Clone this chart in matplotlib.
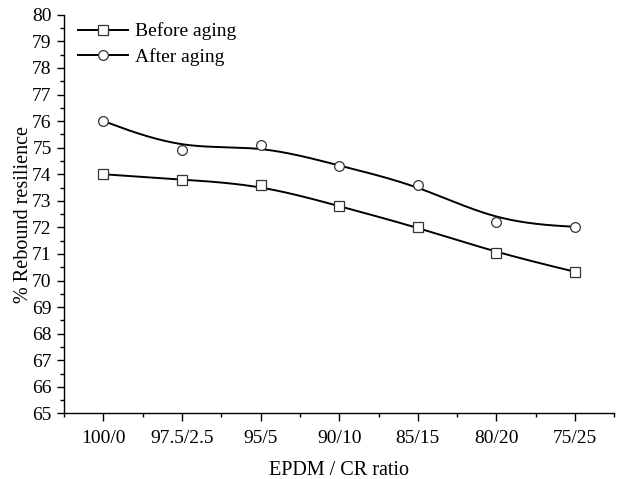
import numpy as np
import matplotlib
matplotlib.use("Agg")
import matplotlib.pyplot as plt
from matplotlib.ticker import MultipleLocator

categories = ["100/0", "97.5/2.5", "95/5", "90/10", "85/15", "80/20", "75/25"]
before_aging = [74.0, 73.8, 73.6, 72.8, 72.0, 71.05, 70.33]
after_aging = [76.0, 74.92, 75.11, 74.32, 73.6, 72.21, 72.02]


def bspline(xs, ys, n=40):
    """Uniform cubic B-spline with clamped (tripled) end control points."""
    px = np.concatenate([[xs[0]] * 2, xs, [xs[-1]] * 2]).astype(float)
    py = np.concatenate([[ys[0]] * 2, ys, [ys[-1]] * 2]).astype(float)
    t = np.linspace(0, 1, n)
    b0 = (1 - t) ** 3 / 6
    b1 = (3 * t ** 3 - 6 * t ** 2 + 4) / 6
    b2 = (-3 * t ** 3 + 3 * t ** 2 + 3 * t + 1) / 6
    b3 = t ** 3 / 6
    ox, oy = [], []
    for i in range(len(px) - 3):
        ox.append(b0 * px[i] + b1 * px[i + 1] + b2 * px[i + 2] + b3 * px[i + 3])
        oy.append(b0 * py[i] + b1 * py[i + 1] + b2 * py[i + 2] + b3 * py[i + 3])
    return np.concatenate(ox), np.concatenate(oy)


plt.rcParams['font.family'] = ['Liberation Serif', 'DejaVu Serif']

fig = plt.figure(figsize=(6.23, 4.79), dpi=100)
ax = fig.add_axes([0.103, 0.137, 0.883, 0.832])

x = np.arange(len(categories))
for ys, mk, lab in [(before_aging, 's', 'Before aging'), (after_aging, 'o', 'After aging')]:
    sx, sy = bspline(x, ys)
    ax.plot(sx, sy, color='black', lw=1.4, zorder=2)
    ax.plot(x, ys, linestyle='none', marker=mk, ms=7, mfc='white', mec='#333333',
            mew=0.9, zorder=3)
    ax.plot([], [], color='black', lw=1.4, marker=mk, ms=7, mfc='white',
            mec='#333333', mew=0.9, label=lab)

ax.set_xlim(-0.5, 6.5)
ax.set_ylim(65, 80)
ax.set_xticks(x)
ax.set_xticklabels(categories)
ax.xaxis.set_minor_locator(MultipleLocator(0.5))
ax.yaxis.set_major_locator(MultipleLocator(1))
ax.yaxis.set_minor_locator(MultipleLocator(0.5))

for s in ['top', 'right']:
    ax.spines[s].set_visible(False)
for s in ['left', 'bottom']:
    ax.spines[s].set_linewidth(1.0)

ax.tick_params(axis='both', which='major', direction='out', length=5, width=1,
               labelsize=14)
ax.tick_params(axis='both', which='minor', direction='out', length=3, width=1)
ax.tick_params(axis='x', which='major', pad=6, length=6)
ax.tick_params(axis='y', which='major', pad=4)

ax.set_xlabel('EPDM / CR ratio', fontsize=14.5)
ax.xaxis.set_label_coords(0.5, -0.12)
ax.set_ylabel('% Rebound resilience', fontsize=14.5)
ax.yaxis.set_label_coords(-0.057, 0.5)

leg = ax.legend(loc='upper left', bbox_to_anchor=(0.0, 1.015), frameon=False,
                fontsize=14, handlelength=2.6, handletextpad=0.35,
                labelspacing=0.4, borderaxespad=0.3)

fig.savefig('out.png', dpi=100)
